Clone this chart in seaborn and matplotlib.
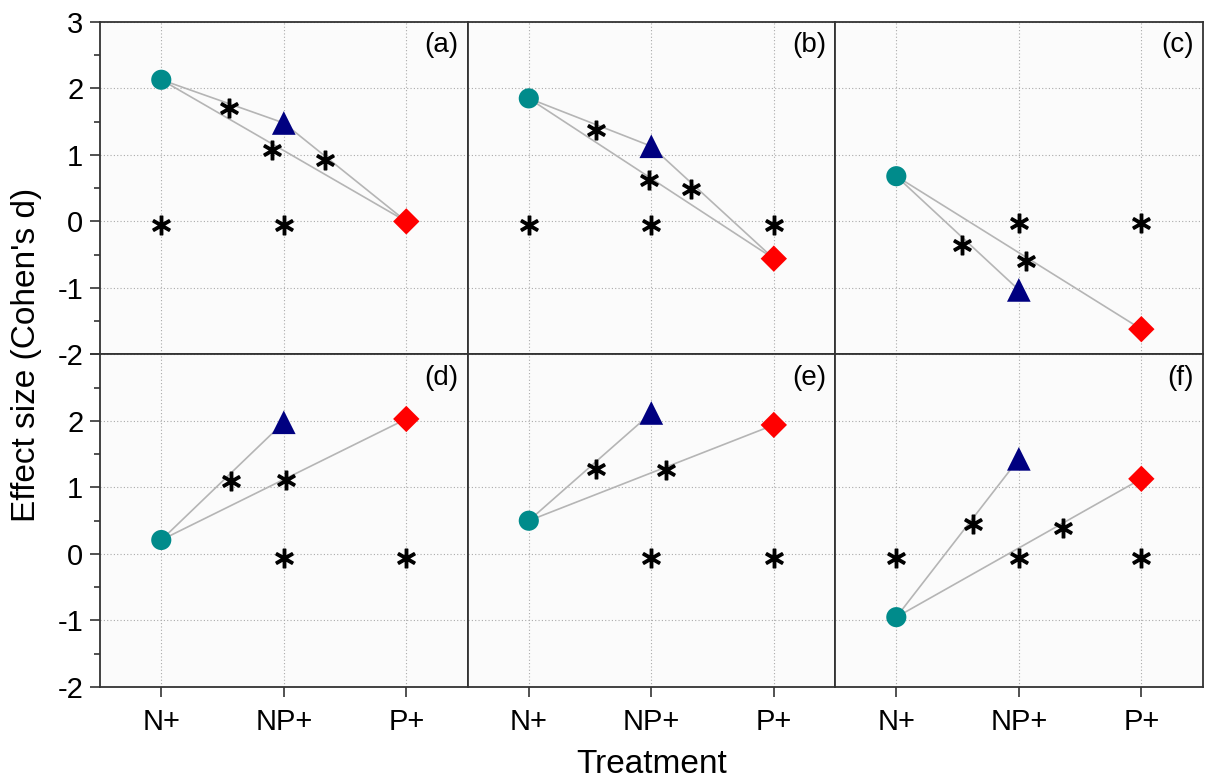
import matplotlib
matplotlib.use("Agg")
import matplotlib.pyplot as plt
import seaborn as sns
import pandas as pd
from matplotlib.ticker import MultipleLocator

# data
treatments = ["N+", "NP+", "P+"]
panel_labels = ["(a)", "(b)", "(c)", "(d)", "(e)", "(f)"]
n_vals = [2.13, 1.85, 0.68, 0.21, 0.50, -0.95]
np_vals = [1.48, 1.13, -1.03, 1.98, 2.12, 1.43]
p_vals = [0.00, -0.56, -1.62, 2.03, 1.94, 1.13]

# significant pairwise comparisons (index into treatments)
pairs = [
    [(0, 1), (1, 2), (0, 2)],
    [(0, 1), (1, 2), (0, 2)],
    [(0, 1), (0, 2)],
    [(0, 1), (0, 2)],
    [(0, 1), (0, 2)],
    [(0, 1), (0, 2)],
]

# asterisk positions
star_x = [
    [0.55, 0.90, 1.34, 0.0, 1.0],
    [0.55, 0.98, 1.32, 0.0, 1.0, 2.0],
    [0.54, 1.06, 1.0, 2.0],
    [0.57, 1.02, 1.0, 2.0],
    [0.55, 1.12, 1.0, 2.0],
    [0.63, 1.36, 0.0, 1.0, 2.0],
]
star_y = [
    [1.71, 1.08, 0.92, -0.05, -0.05],
    [1.38, 0.63, 0.49, -0.05, -0.05, -0.05],
    [-0.35, -0.60, -0.03, -0.03],
    [1.10, 1.11, -0.06, -0.06],
    [1.28, 1.26, -0.06, -0.06],
    [0.45, 0.39, -0.06, -0.06, -0.06],
]

colors = {"N+": "#008b8b", "NP+": "#000080", "P+": "#ff0000"}
markers = {"N+": "o", "NP+": "^", "P+": "D"}
sizes = {"N+": 210, "NP+": 290, "P+": 180}

sns.set_theme(style="ticks")
plt.rcParams["font.family"] = ["Liberation Sans", "DejaVu Sans"]
plt.rcParams["axes.unicode_minus"] = False
plt.rcParams["text.color"] = "black"

fig, axes = plt.subplots(2, 3, figsize=(12.05, 7.82), dpi=100)
fig.subplots_adjust(left=0.083, right=0.998, top=0.972, bottom=0.1215,
                    wspace=0, hspace=0)

for i, ax in enumerate(axes.flat):
    vals = [n_vals[i], np_vals[i], p_vals[i]]
    df = pd.DataFrame({"x": [0, 1, 2], "y": vals, "trt": treatments})

    ax.set_facecolor("#fbfbfb")
    for a, b in pairs[i]:
        ax.plot([a, b], [vals[a], vals[b]], color="#b5b5b5", lw=1.2, zorder=2)

    for t in treatments:
        sub = df[df["trt"] == t]
        sns.scatterplot(data=sub, x="x", y="y", ax=ax, marker=markers[t],
                        s=sizes[t], color=colors[t], edgecolor="none",
                        zorder=3, legend=False)

    sns.scatterplot(x=star_x[i], y=star_y[i], ax=ax, marker=r"$\ast$",
                    s=180, color="black", edgecolor="black", linewidth=1.0,
                    zorder=4, legend=False)

    ax.set_xlim(-0.5, 2.5)
    ax.set_ylim(-2, 3)
    ax.set_xlabel("")
    ax.set_ylabel("")
    ax.set_xticks([0, 1, 2])
    ax.yaxis.set_major_locator(MultipleLocator(1))
    ax.yaxis.set_minor_locator(MultipleLocator(0.5))
    ax.grid(True, which="major", color="#aaaaaa", linestyle=(0, (1, 2)), lw=0.8)
    ax.set_axisbelow(True)
    for sp in ax.spines.values():
        sp.set_color("#333333")
        sp.set_linewidth(1.3)

    row, col = divmod(i, 3)
    ax.tick_params(axis="both", which="both", direction="out", color="#333333",
                   labelsize=21, labelcolor="black", width=1.2)
    ax.tick_params(axis="y", which="major", length=7, pad=5)
    ax.tick_params(axis="y", which="minor", length=4)
    ax.tick_params(axis="x", length=7, pad=8)

    if col != 0:
        ax.tick_params(axis="y", which="both", left=False, labelleft=False)
    else:
        ax.set_yticks([-2, -1, 0, 1, 2, 3])
        if row == 0:
            ax.set_yticklabels(["-2", "-1", "0", "1", "2", "3"])
        else:
            ax.set_yticklabels(["-2", "-1", "0", "1", "2", ""])
    if row == 0:
        ax.tick_params(axis="x", bottom=False, labelbottom=False)
    else:
        ax.set_xticklabels(treatments)

    ax.text(0.975, 0.93, panel_labels[i], transform=ax.transAxes,
            ha="right", va="center", fontsize=20, color="black")

fig.text(0.022, 0.546, "Effect size (Cohen's d)", rotation=90,
         ha="center", va="center", fontsize=24)
fig.text(0.541, 0.022, "Treatment", ha="center", va="center", fontsize=24)

fig.savefig("out.png", dpi=100)
